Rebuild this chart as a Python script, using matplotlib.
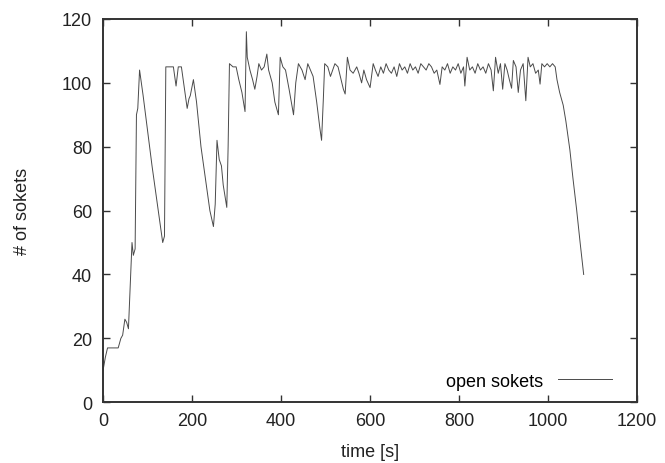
import numpy as np
import matplotlib.pyplot as plt

plt.rcParams['font.family'] = ['Liberation Sans', 'DejaVu Sans']

# time [s] and number of open sockets
t = [0, 5, 10, 15, 34, 40, 44, 49, 53, 57, 62, 65, 68, 72, 75, 78, 82, 90, 100, 110,
     120, 134, 138, 141, 150, 158, 164, 169, 176, 182, 189, 193, 196, 203, 210, 220,
     230, 240, 248, 252, 256, 261, 266, 270, 278, 281, 284, 292, 299, 305, 312, 319,
     322, 324, 330, 336, 341, 346, 350, 356, 362, 368, 372, 380, 386, 394, 398, 404,
     410, 418, 428, 433, 439, 447, 454, 460, 466, 472, 480, 487, 491, 495, 498, 505,
     511, 516, 521, 528, 535, 540, 544, 549, 555, 562, 570, 575, 581, 586, 592, 600,
     607, 612, 618, 624, 630, 636, 642, 648, 654, 660, 666, 672, 678, 684, 690, 696,
     702, 708, 714, 720, 726, 732, 738, 744, 750, 757, 762, 768, 774, 780, 786, 792,
     798, 804, 810, 813, 818, 824, 830, 836, 842, 848, 854, 860, 866, 872, 877, 882,
     888, 893, 898, 903, 908, 913, 918, 922, 928, 933, 938, 944, 950, 955, 960, 966,
     972, 978, 982, 986, 992, 998, 1004, 1010, 1016, 1020, 1026, 1034, 1040, 1049,
     1056, 1064, 1072, 1080]
socks = [10, 14, 17, 17, 17, 20, 21, 26, 25, 23, 40, 50, 46, 48, 90, 92, 104, 96, 85, 74,
         64, 50, 52, 105, 105, 105, 99, 105, 105, 99, 92, 95, 96, 101, 94, 80,
         70, 60, 55, 62, 82, 76, 74, 68, 61, 80, 106, 105, 105, 101, 97, 91,
         116, 108, 104, 101, 98, 102, 106, 104, 105, 109, 104, 100, 94, 90, 108, 105,
         104, 98, 90, 100, 106, 104, 101, 106, 104, 102, 94, 86, 82, 95, 106, 105,
         102, 104, 106, 105, 101, 98, 96.5, 108, 104, 103, 105, 103, 100, 104, 101, 98.5,
         106, 104, 102, 105, 103, 106, 104, 103, 105, 102, 106, 104, 105, 103, 106, 104,
         105, 103, 106, 105, 104, 106, 105, 103, 104, 99.5, 105, 104, 106, 103, 105, 104,
         106, 103, 105, 99, 108, 104, 105, 103, 106, 104, 105, 103, 106, 104, 97.5, 108,
         103, 106, 98, 106, 104, 101, 98.3, 107, 105, 97, 104, 106, 94.4, 108, 105, 106,
         103, 104, 99.6, 106, 105, 106, 105, 106, 105, 101, 97, 93, 88, 79,
         70, 60.5, 50, 40]

fs = 13

fig = plt.figure(figsize=(6.65, 4.64), dpi=100)
ax = fig.add_axes([0.155, 0.131, 0.803, 0.826])

ax.plot(t, socks, color='#4a4a4a', lw=0.7, label='open sokets')

ax.set_xlim(0, 1200)
ax.set_ylim(0, 120)
ax.set_xticks(np.arange(0, 1201, 200))
ax.set_yticks(np.arange(0, 121, 20))
ax.tick_params(direction='in', top=True, right=True, length=5, width=1,
               color='#333333', labelsize=fs, labelcolor='#222222')
ax.tick_params(axis='y', pad=8)
ax.tick_params(axis='x', pad=7)
for s in ax.spines.values():
    s.set_linewidth(1.4)
    s.set_color('#333333')

ax.set_xlabel('time [s]', fontsize=fs, color='#222222', labelpad=10)
ax.set_ylabel('# of sokets', fontsize=fs, color='#222222', labelpad=22)

ax.legend(loc='lower right', frameon=False, markerfirst=False, fontsize=fs,
          handlelength=3, handletextpad=0.8, borderaxespad=0.3,
          bbox_to_anchor=(0.977, 0.0))

fig.savefig('out.png', dpi=100)
